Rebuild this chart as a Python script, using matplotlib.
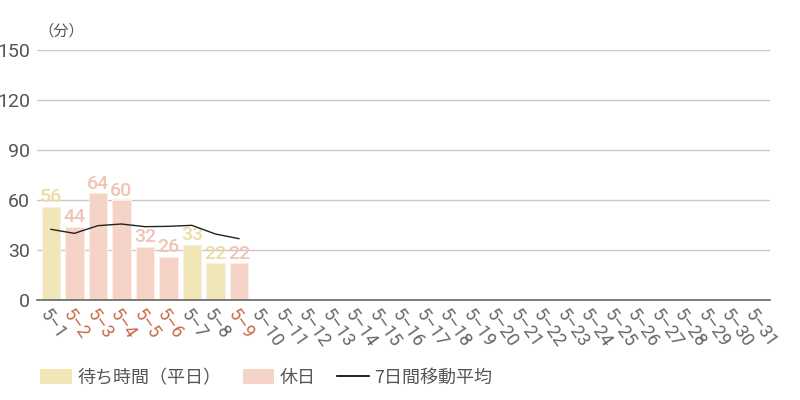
import matplotlib
matplotlib.use("Agg")
import matplotlib.pyplot as plt
from matplotlib.patches import Patch
from matplotlib.lines import Line2D

plt.rcParams['font.family'] = ['Roboto', 'Noto Sans CJK JP', 'DejaVu Sans']

# データ
days = ["5\u2013%d" % d for d in range(1, 32)]
wait = [56, 44, 64, 60, 32, 26, 33, 22, 22]
holiday = [False, True, True, True, True, True, False, False, True]
avg7 = [42.4, 40.0, 44.6, 45.6, 44.0, 44.2, 44.8, 39.6, 36.8]

col_week = "#f0e6b8"
col_hol = "#f5d3c7"
txt_week = "#ecdca4"
txt_hol = "#f0c3b2"
gray = "#555555"
red = "#c8684a"

fig = plt.figure(figsize=(8, 4), dpi=100)
ax = fig.add_axes([0.046, 0.25, 0.9165, 0.625])

x = list(range(len(wait)))
colors = [col_hol if h else col_week for h in holiday]
ax.bar(x, wait, width=0.78, color=colors, edgecolor="#fbeee8", linewidth=0.8, zorder=2)
for i, v in enumerate(wait):
    ax.text(i, v + 0.3, str(v), ha="center", va="bottom", fontsize=14, fontweight="medium",
            color=txt_hol if holiday[i] else txt_week, zorder=3)

ax.plot(x, avg7, color="#222222", linewidth=1.0, zorder=4)

ax.set_xlim(-0.6, len(days) - 0.4)
ax.set_ylim(0, 150)
ax.set_yticks([0, 30, 60, 90, 120, 150])
ax.tick_params(axis="y", length=0, labelsize=14, labelcolor=gray, pad=5)
ax.yaxis.grid(True, color="#c8c8c8", linewidth=1, zorder=0)
ax.set_axisbelow(True)
for s in ["top", "right", "left"]:
    ax.spines[s].set_visible(False)
ax.spines["bottom"].set_color("#666666")
ax.spines["bottom"].set_linewidth(1.2)

ax.set_xticks(range(len(days)))
ax.set_xticklabels(days, rotation=-55, ha="left", rotation_mode="anchor", fontsize=13)
ax.tick_params(axis="x", length=0, pad=4)
for i, lab in enumerate(ax.get_xticklabels()):
    if i < len(holiday) and holiday[i]:
        lab.set_color(red)
    else:
        lab.set_color("#666666")

fig.text(0.048, 0.9, "（分）", fontsize=11, color=gray, ha="left", va="bottom",
         family=['Noto Sans CJK JP', 'DejaVu Sans'])

handles = [Patch(facecolor=col_week, edgecolor="none"),
           Patch(facecolor=col_hol, edgecolor="none"),
           Line2D([0], [0], color="black", linewidth=1.2)]
labels = ["待ち時間（平日）", "休日", "7日間移動平均"]
leg = fig.legend(handles, labels, loc="center left", bbox_to_anchor=(0.05, 0.055),
                 ncol=3, frameon=False, handlelength=1.75, handleheight=0.9,
                 handletextpad=0.3, columnspacing=1.2, borderpad=0, borderaxespad=0,
                 prop={"family": ['Noto Sans CJK JP', 'DejaVu Sans'], "size": 13})
for t in leg.get_texts():
    t.set_color(gray)

fig.savefig("out.png", dpi=100)
